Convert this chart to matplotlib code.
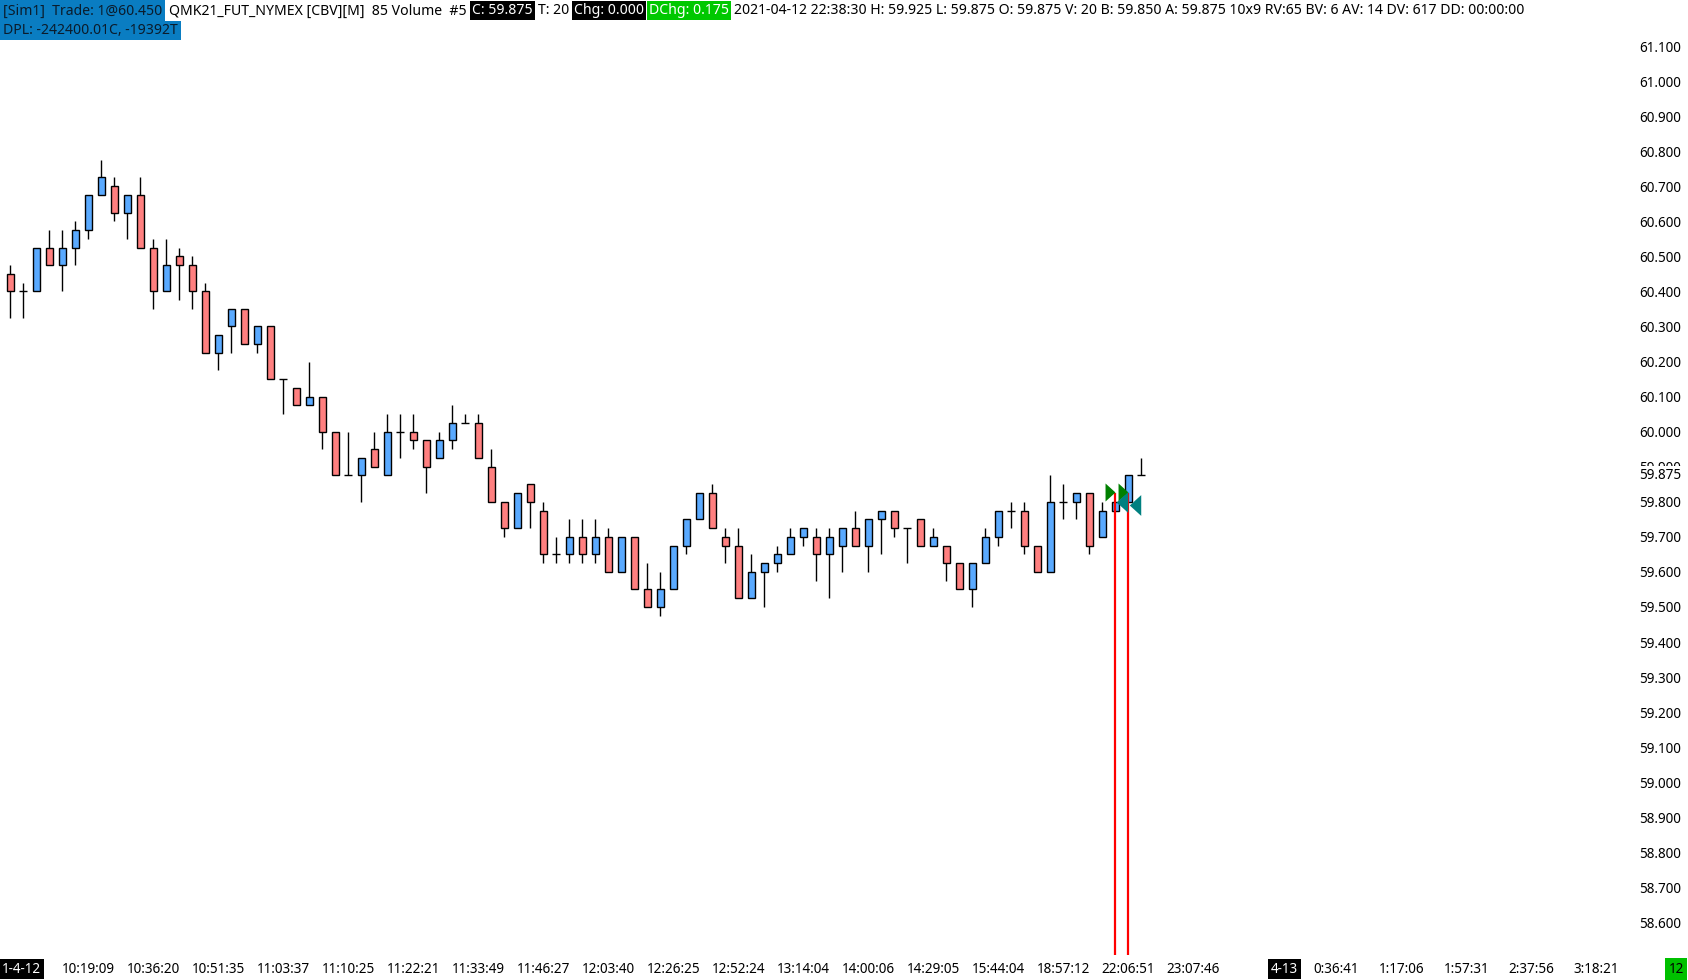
import matplotlib
matplotlib.use('Agg')
import matplotlib.pyplot as plt
from matplotlib.patches import Rectangle

# ---------------- data ----------------
opens = [60.45, 60.40, 60.40, 60.525, 60.475, 60.525, 60.575, 60.675, 60.70, 60.625,
         60.675, 60.525, 60.40, 60.50, 60.475, 60.40, 60.225, 60.30, 60.35, 60.25,
         60.30, 60.15, 60.125, 60.075, 60.10, 60.00, 59.875, 59.875, 59.95, 59.875,
         60.00, 60.00, 59.975, 59.925, 59.975, 60.025, 60.025, 59.90, 59.80, 59.725,
         59.85, 59.775, 59.65, 59.65, 59.70, 59.65, 59.70, 59.60, 59.70, 59.55,
         59.50, 59.55, 59.675, 59.75, 59.825, 59.70, 59.675, 59.525, 59.60, 59.625,
         59.65, 59.70, 59.70, 59.65, 59.675, 59.725, 59.675, 59.75, 59.775, 59.725,
         59.75, 59.675, 59.675, 59.625, 59.55, 59.625, 59.70, 59.775, 59.775, 59.675,
         59.60, 59.80, 59.80, 59.825, 59.70, 59.775, 59.80, 59.875]
highs = [60.475, 60.425, 60.525, 60.575, 60.575, 60.60, 60.675, 60.775, 60.725, 60.675,
         60.725, 60.55, 60.55, 60.525, 60.50, 60.425, 60.275, 60.35, 60.35, 60.30,
         60.30, 60.15, 60.125, 60.20, 60.10, 60.00, 60.00, 59.925, 60.00, 60.05,
         60.05, 60.05, 59.975, 60.00, 60.075, 60.05, 60.05, 59.95, 59.80, 59.825,
         59.85, 59.80, 59.70, 59.75, 59.75, 59.75, 59.725, 59.70, 59.70, 59.625,
         59.60, 59.675, 59.75, 59.825, 59.85, 59.725, 59.725, 59.65, 59.625, 59.675,
         59.725, 59.725, 59.725, 59.725, 59.725, 59.775, 59.75, 59.775, 59.775, 59.725,
         59.75, 59.725, 59.675, 59.625, 59.625, 59.725, 59.775, 59.80, 59.80, 59.675,
         59.875, 59.85, 59.825, 59.825, 59.80, 59.80, 59.875, 59.925]
lows = [60.325, 60.325, 60.40, 60.475, 60.40, 60.475, 60.55, 60.675, 60.60, 60.55,
        60.525, 60.35, 60.40, 60.375, 60.35, 60.225, 60.175, 60.225, 60.25, 60.225,
        60.15, 60.05, 60.075, 60.075, 59.95, 59.875, 59.875, 59.80, 59.90, 59.875,
        59.925, 59.95, 59.825, 59.925, 59.95, 60.025, 59.925, 59.80, 59.70, 59.725,
        59.725, 59.625, 59.625, 59.625, 59.625, 59.625, 59.60, 59.60, 59.55, 59.50,
        59.475, 59.55, 59.65, 59.75, 59.725, 59.625, 59.525, 59.525, 59.50, 59.60,
        59.65, 59.675, 59.575, 59.525, 59.60, 59.675, 59.60, 59.65, 59.70, 59.625,
        59.675, 59.675, 59.575, 59.55, 59.50, 59.625, 59.675, 59.725, 59.65, 59.60,
        59.60, 59.75, 59.75, 59.65, 59.70, 59.775, 59.80, 59.875]
closes = [60.40, 60.40, 60.525, 60.475, 60.525, 60.575, 60.675, 60.725, 60.625, 60.675,
          60.525, 60.40, 60.475, 60.475, 60.40, 60.225, 60.275, 60.35, 60.25, 60.30,
          60.15, 60.15, 60.075, 60.10, 60.00, 59.875, 59.875, 59.925, 59.90, 60.00,
          60.00, 59.975, 59.90, 59.975, 60.025, 60.025, 59.925, 59.80, 59.725, 59.825,
          59.80, 59.65, 59.65, 59.70, 59.65, 59.70, 59.60, 59.70, 59.55, 59.50,
          59.55, 59.675, 59.75, 59.825, 59.725, 59.675, 59.525, 59.60, 59.625, 59.65,
          59.70, 59.725, 59.65, 59.70, 59.725, 59.675, 59.75, 59.775, 59.725, 59.725,
          59.675, 59.70, 59.625, 59.55, 59.625, 59.70, 59.775, 59.775, 59.675, 59.60,
          59.80, 59.80, 59.825, 59.675, 59.775, 59.80, 59.875, 59.875]

time_label_idx = [6, 11, 16, 21, 26, 31, 36, 41, 46, 51, 56, 61, 66, 71, 76, 81, 86, 91,
                  102, 107, 112, 117, 122]
time_labels = ["10:19:09", "10:36:20", "10:51:35", "11:03:37", "11:10:25", "11:22:21",
               "11:33:49", "11:46:27", "12:03:40", "12:26:25", "12:52:24", "13:14:04",
               "14:00:06", "14:29:05", "15:44:04", "18:57:12", "22:06:51", "23:07:46",
               "0:36:41", "1:17:06", "1:57:31", "2:37:56", "3:18:21"]
date_label_idx = [98]
date_labels = ["4-13"]

price_ticks = [58.6, 58.7, 58.8, 58.9, 59.0, 59.1, 59.2, 59.3, 59.4, 59.5, 59.6, 59.7,
               59.8, 59.9, 60.0, 60.1, 60.2, 60.3, 60.4, 60.5, 60.6, 60.7, 60.8, 60.9,
               61.0, 61.1]
last_price = 59.875

buy_idx = [85, 86]
buy_price = [59.827, 59.827]
sell_idx = [85, 86]
sell_price = [59.80, 59.79]
trade_line_idx = [85, 86]
trade_line_top = [59.825, 59.825]

# ---------------- figure ----------------
W, H, DPI = 1688, 980, 100
FONT = ['Noto Sans', 'DejaVu Sans']
BLUE = '#5AAAFF'
RED = '#FF8080'

fig = plt.figure(figsize=(W / DPI, H / DPI), dpi=DPI)
fig.patch.set_facecolor('white')
AX_BOTTOM_PX = 955
AX_RIGHT_PX = 1620
ax = fig.add_axes([0, (H - AX_BOTTOM_PX) / H, AX_RIGHT_PX / W, AX_BOTTOM_PX / H])
ax.set_facecolor('white')
for s in ax.spines.values():
    s.set_visible(False)

renderer = fig.canvas.get_renderer()


def text_width(s, size):
    t = fig.text(0, 0, s, fontsize=size, family=FONT)
    w = t.get_window_extent(renderer).width
    t.remove()
    return w


# fit fonts to reference widths
tick_fs = 10 * 42.0 / text_width("61.100", 10)
hdr_rest = ("2021-04-12 22:38:30 H: 59.925 L: 59.875 O: 59.875 V: 20 B: 59.850 A: 59.875 "
            "10x9 RV:65 BV: 6 AV: 14 DV: 617 DD: 00:00:00")
hdr_fs = 10 * 789.0 / text_width(hdr_rest, 10)

# ---------------- candles ----------------
bw = 0.56
lw = 1.0
for i, (o, h, l, c) in enumerate(zip(opens, highs, lows, closes)):
    ax.vlines(i, l, h, color='black', lw=lw, zorder=2)
    if c == o:
        ax.hlines(o, i - bw / 2 - 0.03, i + bw / 2 + 0.03, color='black', lw=lw, zorder=3)
    else:
        col = BLUE if c > o else RED
        ax.add_patch(Rectangle((i - bw / 2, min(o, c)), bw, abs(c - o),
                               facecolor=col, edgecolor='black', lw=lw, zorder=3))

ylo = 61.1 - (AX_BOTTOM_PX - 46) / 350.6
yhi = 61.1 + 46 / 350.6
ax.set_ylim(ylo, yhi)
ax.set_xlim(-10.3 / 13, (AX_RIGHT_PX - 10.3) / 13)

# trade lines
for xi, yt in zip(trade_line_idx, trade_line_top):
    ax.vlines(xi, ylo, yt, color='#FF0000', lw=1.6, zorder=4)

# markers
tri_r = [(-0.55, 1), (0.55, 0), (-0.55, -1)]
tri_l = [(0.55, 1), (-0.55, 0), (0.55, -1)]
ax.plot([b - 0.42 for b in buy_idx], buy_price, linestyle='none', marker=tri_r,
        markersize=13, color='#008000', markeredgewidth=0, zorder=5)
ax.plot([s + 0.5 for s in sell_idx], sell_price, linestyle='none', marker=tri_l,
        markersize=15, color='#008080', markeredgewidth=0, zorder=6)

# ---------------- axes ticks ----------------
ax.yaxis.tick_right()
ax.set_yticks(price_ticks)
ax.set_yticklabels([f"{p:.3f}" for p in price_ticks])
ax.tick_params(axis='y', length=0, pad=(1681 - AX_RIGHT_PX) * 72 / DPI,
               labelsize=tick_fs, labelcolor='black')
for lab in ax.get_yticklabels():
    lab.set_horizontalalignment('right')
    lab.set_family(FONT)

ax.set_xticks(time_label_idx)
ax.set_xticklabels(time_labels)
ax.tick_params(axis='x', length=0, pad=5, labelsize=tick_fs, labelcolor='black')
for lab in ax.get_xticklabels():
    lab.set_family(FONT)

# last price label over the axis
ax.text(1681 / AX_RIGHT_PX, last_price, f"{last_price:.3f}", transform=ax.get_yaxis_transform(),
        ha='right', va='center', fontsize=tick_fs, family=FONT, color='black', clip_on=False,
        zorder=10, bbox=dict(boxstyle='square,pad=0.12', facecolor='white', edgecolor='none'))

# date labels on x axis
lab_y = 1 - 969 / H
for di, ds in zip(date_label_idx, date_labels):
    xf = ax.transData.transform((di, 0))[0] / W
    fig.text(xf, lab_y, ds, ha='center', va='center', fontsize=tick_fs, family=FONT,
             color='white', bbox=dict(boxstyle='square,pad=0.2', facecolor='black', edgecolor='none'))
fig.text(2 / W, lab_y, "1-4-12", ha='left', va='center', fontsize=tick_fs, family=FONT,
         color='white', bbox=dict(boxstyle='square,pad=0.2', facecolor='black', edgecolor='none'))
fig.text(1684 / W, lab_y, "12", ha='right', va='center', fontsize=tick_fs, family=FONT,
         color='black', bbox=dict(boxstyle='square,pad=0.25', facecolor='#00C000', edgecolor='none'))

# ---------------- header ----------------
HDR_BLUE = '#0A7DC2'
HDR_DARK = '#0B1C2C'
GREEN = '#00C800'


def seg(x, yc, s, fg, bg=None, ytop=0, ybot=21, padl=2, padr=2):
    t = fig.text(x / W, 1 - yc / H, s, fontsize=hdr_fs, family=FONT, color=fg,
                 va='center', ha='left', zorder=5)
    w = t.get_window_extent(renderer).width
    if bg is not None:
        fig.patches.append(Rectangle(((x - padl) / W, 1 - ybot / H), (w + padl + padr) / W,
                                     (ybot - ytop) / H, transform=fig.transFigure,
                                     facecolor=bg, edgecolor='none', zorder=1))
    return x + w + padr


x = 3
x = seg(x, 11, "[Sim1]  Trade: 1@60.450", HDR_DARK, HDR_BLUE, 0, 21, 3, 3)
x += 4
x = seg(x, 11, "QMK21_FUT_NYMEX [CBV][M]  85 Volume  #5", 'black')
x += 3
x = seg(x, 11, "C: 59.875", 'white', 'black', 1, 20)
x += 3
x = seg(x, 11, "T: 20", 'black')
x += 3
x = seg(x, 11, "Chg: 0.000", 'white', 'black', 1, 20)
x += 3
x = seg(x, 11, "DChg: 0.175", 'white', GREEN, 1, 20)
x += 3
seg(x, 11, hdr_rest, 'black')
seg(3, 30, "DPL: -242400.01C, -19392T", HDR_DARK, HDR_BLUE, 21, 40, 3, 3)

fig.savefig('out.png', dpi=DPI, facecolor='white')
